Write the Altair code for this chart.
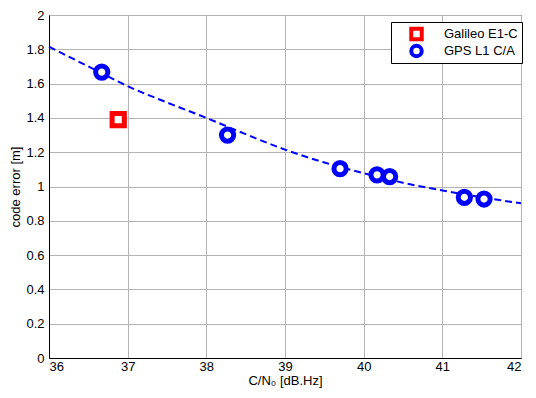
import altair as alt
import pandas as pd

# Measured points
gps_x = [36.67, 38.27, 39.70, 40.17, 40.33, 41.28, 41.53]
gps_y = [1.667, 1.300, 1.104, 1.068, 1.058, 0.937, 0.927]
gal_x = [36.88]
gal_y = [1.39]

# Dashed fit curve
fit_x = [36, 36.5, 37, 37.5, 38, 38.5, 39, 39.5, 40, 40.5, 41, 41.5, 42]
fit_y = [1.815, 1.70, 1.585, 1.49, 1.40, 1.305, 1.215, 1.14, 1.078, 1.022, 0.977, 0.937, 0.902]

series = ["Galileo E1-C", "GPS L1 C/A"]
colors = ["#ff0000", "#0000ff"]
shapes = ["square", "circle"]
x_ticks = [36, 37, 38, 39, 40, 41, 42]
y_ticks = [0, 0.2, 0.4, 0.6, 0.8, 1, 1.2, 1.4, 1.6, 1.8, 2]

pts = pd.DataFrame({
    "x": gal_x + gps_x,
    "y": gal_y + gps_y,
    "s": [series[0]] * len(gal_x) + [series[1]] * len(gps_x),
})
fit = pd.DataFrame({"x": fit_x, "y": fit_y})

xs = alt.Scale(domain=[36, 42], nice=False, zero=False)
ys = alt.Scale(domain=[0, 2], nice=False)

x_axis = alt.Axis(values=x_ticks, format="~g", labelOverlap=False, title="C/N₀ [dB.Hz]")
y_axis = alt.Axis(values=y_ticks, format="~g", labelOverlap=False, title="code error [m]")

line = alt.Chart(fit).mark_line(color="#0000ff", strokeWidth=2, strokeDash=[7, 4],
                                 interpolate="monotone").encode(
    x=alt.X("x:Q", scale=xs, axis=x_axis),
    y=alt.Y("y:Q", scale=ys, axis=y_axis),
)

leg = alt.Legend(title=None, orient="none", legendX=342, legendY=7,
                 strokeColor="black", fillColor="white",
                 padding=4, symbolOffset=14, labelOffset=20,
                 symbolStrokeWidth=4, symbolSize=110, clipHeight=16,
                 labelFontSize=13, labelFont="Liberation Sans", labelColor="black",
                 symbolFillColor="white", rowPadding=1, labelLimit=200)

points = alt.Chart(pts).mark_point(filled=False, fill="white", fillOpacity=1,
                                   strokeWidth=5, size=150, opacity=1).encode(
    x=alt.X("x:Q", scale=xs, axis=x_axis),
    y=alt.Y("y:Q", scale=ys, axis=y_axis),
    stroke=alt.Stroke("s:N", scale=alt.Scale(domain=series, range=colors), legend=leg),
    shape=alt.Shape("s:N", scale=alt.Scale(domain=series, range=shapes), legend=leg),
)

chart = alt.layer(line, points).properties(
    width=472, height=343,
    autosize=alt.AutoSizeParams(type="none"),
    padding={"left": 41, "top": 7, "right": 7, "bottom": 32},
).configure_view(stroke="black", strokeWidth=1).configure_axis(
    labelFont="Liberation Sans", titleFont="Liberation Sans",
    labelFontSize=13, titleFontSize=13, titleFontWeight="normal",
    labelColor="black", titleColor="black",
    gridColor="#b4b4b4", gridWidth=1, gridOpacity=1,
    domainColor="black", tickColor="black", tickSize=0,
).configure_axisY(titlePadding=3, labelPadding=5).configure_axisX(titlePadding=1, labelPadding=2)

chart.save("out.html", embed_options={"renderer": "svg", "actions": False})
